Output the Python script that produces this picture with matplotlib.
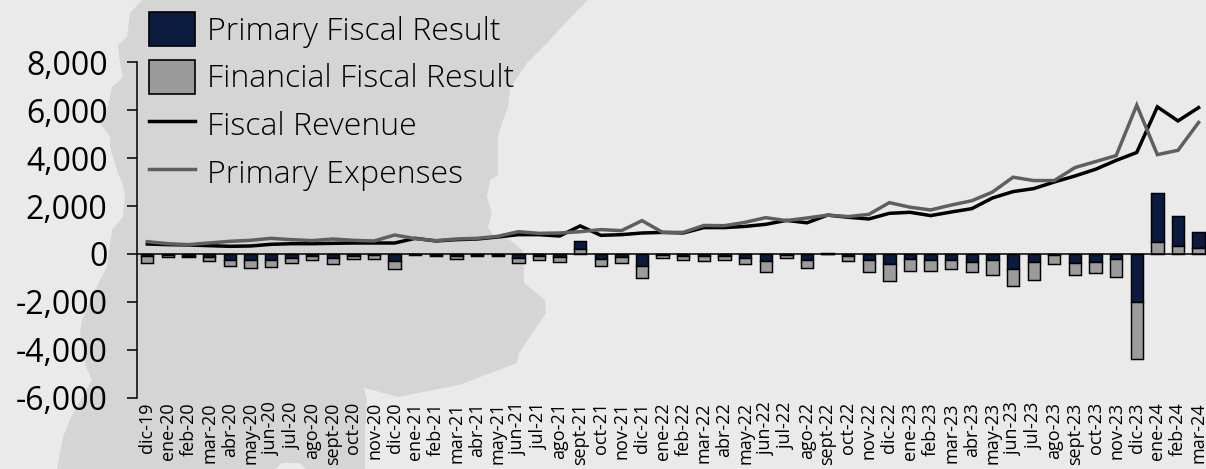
import matplotlib
matplotlib.use("Agg")
import matplotlib.pyplot as plt
from matplotlib.patches import Patch, Polygon
from matplotlib.lines import Line2D
from matplotlib.ticker import FuncFormatter
import numpy as np

months = ["dic-19","ene-20","feb-20","mar-20","abr-20","may-20","jun-20","jul-20","ago-20","sept-20","oct-20","nov-20",
          "dic-20","ene-21","feb-21","mar-21","abr-21","may-21","jun-21","jul-21","ago-21","sept-21","oct-21","nov-21",
          "dic-21","ene-22","feb-22","mar-22","abr-22","may-22","jun-22","jul-22","ago-22","sept-22","oct-22","nov-22",
          "dic-22","ene-23","feb-23","mar-23","abr-23","may-23","jun-23","jul-23","ago-23","sept-23","oct-23","nov-23",
          "dic-23","ene-24","feb-24","mar-24"]
primary = [-97,-50,-70,-139,-250,-264,-250,-150,-97,-167,-83,-55,
           -306,-20,-60,-90,-50,-50,-150,-97,-125,320,-208,-139,
           -486,-55,-83,-97,-83,-180,-306,-42,-236,40,-70,-236,
           -430,-222,-236,-264,-347,-250,-625,-333,-40,-375,-333,-222,
           -1986,2040,1250,653]
financial = [-264,-60,-40,-166,-250,-319,-306,-211,-167,-233,-125,-153,
             -334,-10,-30,-105,-20,-30,-225,-167,-222,208,-278,-250,
             -528,-125,-153,-195,-153,-250,-430,-111,-361,20,-236,-514,
             -695,-500,-472,-376,-389,-625,-695,-750,-360,-515,-457,-748,
             -2374,500,333,264]
revenue = [417,390,375,347,320,333,403,430,430,445,458,458,
           458,653,542,598,625,708,806,806,750,1170,778,806,
           875,900,875,1100,1100,1150,1237,1400,1300,1620,1530,1460,
           1695,1737,1600,1750,1890,2335,2600,2725,3000,3250,3530,3900,
           4230,6130,5545,6100]
expenses = [514,430,390,460,528,570,653,598,556,625,570,542,
            792,640,556,625,653,736,930,861,875,930,1015,973,
            1390,900,900,1190,1180,1320,1515,1390,1500,1620,1560,1650,
            2140,1950,1835,2040,2220,2580,3200,3060,3060,3600,3850,4100,
            6200,4140,4320,5480]
yticks = [-6000,-4000,-2000,0,2000,4000,6000,8000]
names = ["Primary Fiscal Result","Financial Fiscal Result","Fiscal Revenue","Primary Expenses"]

# decorative backdrop outline, in picture pixels
map_outline = [(142,0),(130,13),(127,37),(118,45),(120,63),(123,77),(112,87),(108,107),(100,123),(110,137),
               (110,147),(118,173),(123,185),(125,197),(123,217),(112,230),(107,267),(95,290),(82,320),(80,333),
               (86,367),(92,380),(71,417),(63,437),(57,469),(275,469),(282,463),(300,463),(306,469),(365,469),
               (365,433),(367,400),(364,388),(380,392),(398,397),(459,385),(517,363),(519,353),(546,313),(545,300),
               (524,283),(524,263),(522,250),(510,240),(493,235),(488,227),(492,213),(487,197),(490,180),(498,175),
               (498,157),(498,137),(502,123),(508,107),(510,88),(527,63),(547,43),(557,32),(575,13),(588,0)]

W, H = 1206, 469
plt.rcParams['font.family'] = ['Open Sans', 'DejaVu Sans']
fig = plt.figure(figsize=(W/100, H/100), dpi=100, facecolor='#EAEAEA')
fig.add_artist(Polygon([(x/W, 1-y/H) for x, y in map_outline], closed=True, transform=fig.transFigure,
                       facecolor='#D5D5D5', edgecolor='none', zorder=-5))

ax = fig.add_axes([137/W, 1-398/H, (W-137)/W, (398-62)/H])
ax.patch.set_alpha(0)
x = np.arange(len(months))
prim = np.array(primary, float)
fin = np.array(financial, float)
pos = prim > 0
prim_bottom = np.where(pos, fin, 0)
fin_bottom = np.where(pos, 0, prim)
kw = dict(width=0.6, edgecolor='black', linewidth=1.05, zorder=2)
ax.bar(x, prim, bottom=prim_bottom, color='#0A1B3D', **kw)
ax.bar(x, fin, bottom=fin_bottom, color='#9B9B9B', **kw)
ax.axhline(0, color='black', lw=1.1, zorder=3)
ax.plot(x, revenue, color='black', lw=2.5, zorder=4, solid_joinstyle='miter')
ax.plot(x, expenses, color='#5F5F5F', lw=2.5, zorder=5, solid_joinstyle='miter')

ax.set_xlim(-0.5, (W-148)/20.6)
ax.set_ylim(-6000, 8000)
for s in ['top', 'right', 'bottom']:
    ax.spines[s].set_visible(False)
ax.spines['left'].set_linewidth(1.1)
ax.set_yticks(yticks)
ax.yaxis.set_major_formatter(FuncFormatter(lambda v, _: f"{int(v):,}"))
ax.tick_params(axis='y', length=7.2, width=1.1, pad=14, labelsize=23, colors='black')
ax.set_xticks(x)
ax.set_xticklabels(months, rotation=90, ha='center', va='top', fontsize=13)
ax.tick_params(axis='x', length=0, pad=3)

handles = [Patch(facecolor='#0A1B3D', edgecolor='black', linewidth=1.2),
           Patch(facecolor='#9B9B9B', edgecolor='black', linewidth=1.2),
           Line2D([], [], color='black', lw=2.5),
           Line2D([], [], color='#5F5F5F', lw=2.5)]
fs_pt = 23.0
fs_px = fs_pt * 100 / 72
fig.legend(handles, names, loc='upper left', bbox_to_anchor=(149/W, 1-12/H), frameon=False,
           prop={'size': fs_pt, 'weight': 300, 'family': ['Open Sans', 'DejaVu Sans']},
           borderpad=0, borderaxespad=0, handlelength=46/fs_px, handleheight=1.257,
           handletextpad=12/fs_px, labelspacing=12/fs_px, labelcolor='black')
fig.savefig('out.png', dpi=100, facecolor=fig.get_facecolor())
